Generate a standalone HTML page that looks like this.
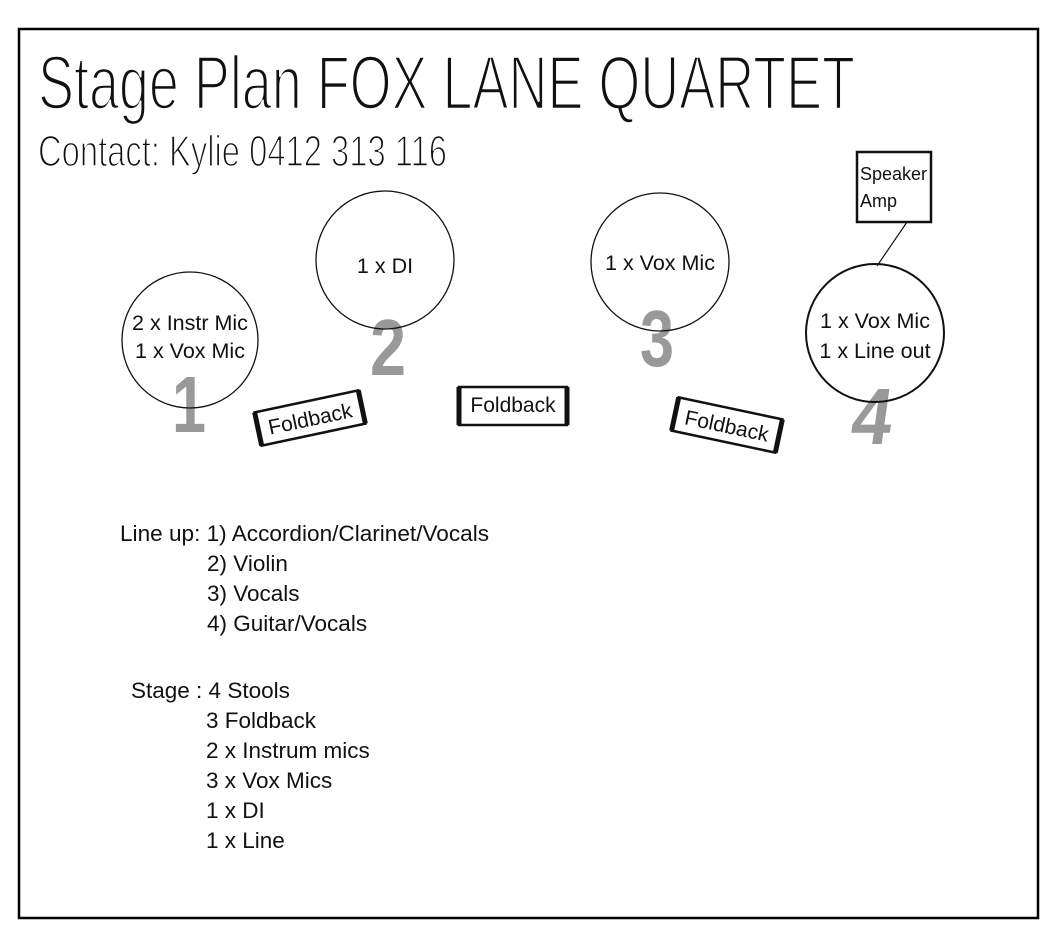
<!DOCTYPE html>
<html><head><meta charset="utf-8"><style>
html,body{margin:0;padding:0;background:#fff}
svg{display:block}
text{font-family:"Liberation Sans",sans-serif}
</style></head><body>
<svg width="1063" height="945" viewBox="0 0 1063 945" xmlns="http://www.w3.org/2000/svg">
<rect x="0" y="0" width="1063" height="945" fill="#fff"/>
<rect x="19" y="29" width="1019" height="889" fill="none" stroke="#000" stroke-width="2.5"/>
<text x="38" y="109" font-size="76" textLength="817" lengthAdjust="spacingAndGlyphs" fill="#111" stroke="#fff" stroke-width="2.6">Stage Plan FOX LANE QUARTET</text>
<text x="38" y="166" font-size="44" textLength="409" lengthAdjust="spacingAndGlyphs" fill="#111" stroke="#fff" stroke-width="1.6">Contact: Kylie 0412 313 116</text>

<g font-size="80" font-weight="bold" fill="#999" font-family="Liberation Serif, serif">
<text x="172" y="432" textLength="34" lengthAdjust="spacingAndGlyphs">1</text>
<text x="370" y="375" textLength="36" lengthAdjust="spacingAndGlyphs">2</text>
<text x="640" y="366" textLength="34" lengthAdjust="spacingAndGlyphs">3</text>
<text x="851" y="444" textLength="40" lengthAdjust="spacingAndGlyphs" transform="skewX(-8) translate(60,0)">4</text>
</g>

<g fill="none" stroke="#111">
<circle cx="190" cy="340" r="68" stroke-width="1.3"/>
<circle cx="385" cy="260" r="69" stroke-width="1.3"/>
<circle cx="660" cy="262" r="69" stroke-width="1.3"/>
<circle cx="875" cy="333" r="69" stroke-width="2"/>
<rect x="857" y="152" width="74" height="70" stroke-width="2.5"/>
<line x1="907" y1="222" x2="877" y2="266" stroke-width="1.2"/>
</g>
<g font-size="21.5" fill="#111" text-anchor="middle">
<text x="190" y="330">2 x Instr Mic</text>
<text x="190" y="358">1 x Vox Mic</text>
<text x="385" y="273">1 x DI</text>
<text x="660" y="270">1 x Vox Mic</text>
<text x="875" y="328">1 x Vox Mic</text>
<text x="875" y="358">1 x Line out</text>
</g>
<text x="860" y="180" font-size="18" fill="#111">Speaker</text>
<text x="860" y="207" font-size="18" fill="#111">Amp</text>

<g transform="translate(310,418) rotate(-12)">
<rect x="-53" y="-17" width="106" height="34" fill="#fff" stroke="#111" stroke-width="2.5"/>
<line x1="-53" y1="-17" x2="-53" y2="17" stroke="#111" stroke-width="5"/>
<line x1="53" y1="-17" x2="53" y2="17" stroke="#111" stroke-width="5"/>
<text x="0" y="8" font-size="21" text-anchor="middle" fill="#111">Foldback</text>
</g>
<g transform="translate(513,406)">
<rect x="-54" y="-19" width="108" height="38" fill="#fff" stroke="#111" stroke-width="2.5"/>
<line x1="-54" y1="-19" x2="-54" y2="19" stroke="#111" stroke-width="5"/>
<line x1="54" y1="-19" x2="54" y2="19" stroke="#111" stroke-width="5"/>
<text x="0" y="6" font-size="21" text-anchor="middle" fill="#111">Foldback</text>
</g>
<g transform="translate(727,425) rotate(12)">
<rect x="-53" y="-17" width="106" height="34" fill="#fff" stroke="#111" stroke-width="2.5"/>
<line x1="-53" y1="-17" x2="-53" y2="17" stroke="#111" stroke-width="5"/>
<line x1="53" y1="-17" x2="53" y2="17" stroke="#111" stroke-width="5"/>
<text x="0" y="8" font-size="21" text-anchor="middle" fill="#111">Foldback</text>
</g>

<g font-size="22.5" fill="#111">
<text x="120" y="541" textLength="369" lengthAdjust="spacingAndGlyphs">Line up: 1) Accordion/Clarinet/Vocals</text>
<text x="207" y="571">2) Violin</text>
<text x="207" y="601">3) Vocals</text>
<text x="207" y="631">4) Guitar/Vocals</text>
<text x="131" y="698">Stage : 4 Stools</text>
<text x="206" y="728">3 Foldback</text>
<text x="206" y="758">2 x Instrum mics</text>
<text x="206" y="788">3 x Vox Mics</text>
<text x="206" y="818">1 x DI</text>
<text x="206" y="848">1 x Line</text>
</g>
</svg>
</body></html>
